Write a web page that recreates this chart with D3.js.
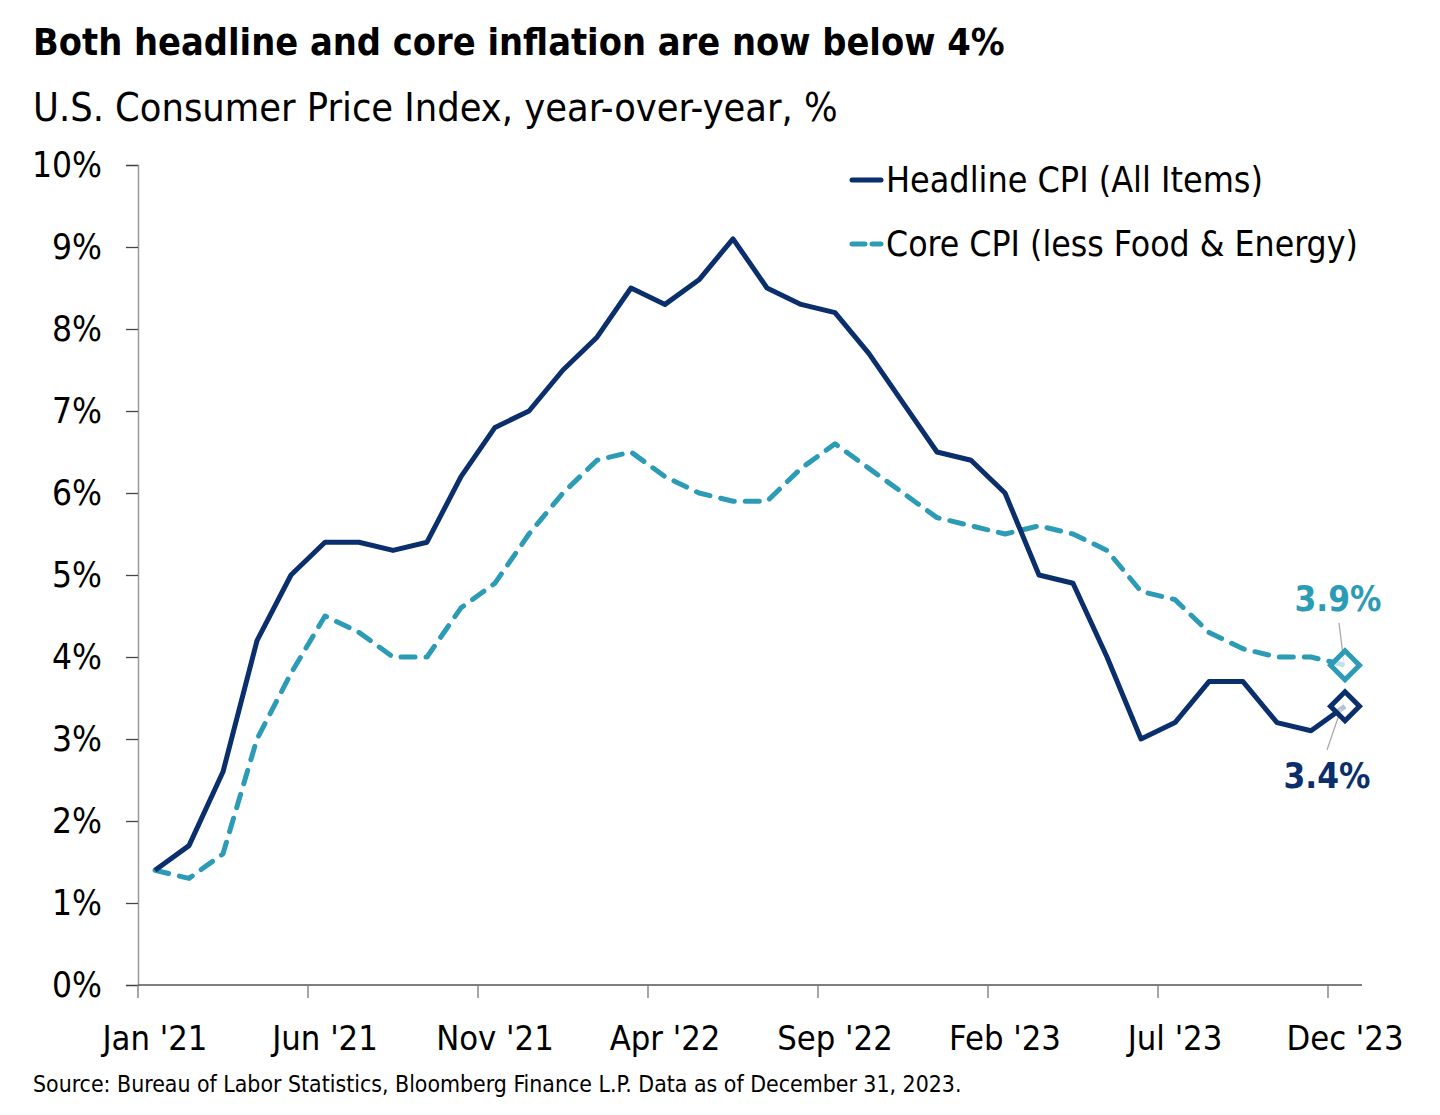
<!DOCTYPE html>
<html>
<head>
<meta charset="utf-8">
<script src="https://cdn.jsdelivr.net/npm/d3@7"></script>
<style>
  body { margin: 0; background: #fff; }
  svg { display: block; }
</style>
</head>
<body>
<div id="chart"></div>
<script>
// ---------- data ----------
const months = [
  "Jan '21", "Feb '21", "Mar '21", "Apr '21", "May '21", "Jun '21",
  "Jul '21", "Aug '21", "Sep '21", "Oct '21", "Nov '21", "Dec '21",
  "Jan '22", "Feb '22", "Mar '22", "Apr '22", "May '22", "Jun '22",
  "Jul '22", "Aug '22", "Sep '22", "Oct '22", "Nov '22", "Dec '22",
  "Jan '23", "Feb '23", "Mar '23", "Apr '23", "May '23", "Jun '23",
  "Jul '23", "Aug '23", "Sep '23", "Oct '23", "Nov '23", "Dec '23"
];
const headline = [
  1.4, 1.7, 2.6, 4.2, 5.0, 5.4, 5.4, 5.3, 5.4, 6.2, 6.8, 7.0,
  7.5, 7.9, 8.5, 8.3, 8.6, 9.1, 8.5, 8.3, 8.2, 7.7, 7.1, 6.5,
  6.4, 6.0, 5.0, 4.9, 4.0, 3.0, 3.2, 3.7, 3.7, 3.2, 3.1, 3.4
];
const core = [
  1.4, 1.3, 1.6, 3.0, 3.8, 4.5, 4.3, 4.0, 4.0, 4.6, 4.9, 5.5,
  6.0, 6.4, 6.5, 6.2, 6.0, 5.9, 5.9, 6.3, 6.6, 6.3, 6.0, 5.7,
  5.6, 5.5, 5.6, 5.5, 5.3, 4.8, 4.7, 4.3, 4.1, 4.0, 4.0, 3.9
];
const xLabels = ["Jan '21", "Jun '21", "Nov '21", "Apr '22", "Sep '22", "Feb '23", "Jul '23", "Dec '23"];
const yTicks = [0, 1, 2, 3, 4, 5, 6, 7, 8, 9, 10];
const seriesNames = ["Headline CPI (All Items)", "Core CPI (less Food & Energy)"];

// ---------- setup ----------
const width = 1440, height = 1115;
const navy = "#0a2f6c", teal = "#2c9bb6";
const font = "'Liberation Sans Narrow', 'DejaVu Sans Condensed', 'Roboto Condensed', 'Open Sans', sans-serif";

const svg = d3.select("#chart").append("svg")
  .attr("width", width)
  .attr("height", height)
  .style("font-family", font);

const x = d3.scaleBand().domain(months).range([138, 1362]).paddingInner(0).paddingOuter(0);
const y = d3.scaleLinear().domain([0, 10]).range([985, 165]);
const cx = m => x(m) + x.bandwidth() / 2;

// font size that makes a text span the given width
function fitSize(sel, w) {
  const fs = parseFloat(sel.style("font-size"));
  const len = sel.node().getComputedTextLength();
  return len > 0 ? fs * w / len : fs;
}
function fit(sel, w) {
  sel.style("font-size", fitSize(sel, w) + "px");
  return sel;
}

// ---------- titles ----------
fit(svg.append("text")
  .attr("x", 33).attr("y", 55)
  .style("font-size", "38px").style("font-weight", 700).style("fill", "#000")
  .text("Both headline and core inflation are now below 4%"), 972);

fit(svg.append("text")
  .attr("x", 33).attr("y", 121)
  .style("font-size", "36px").style("fill", "#000")
  .text("U.S. Consumer Price Index, year-over-year, %"), 805);

// ---------- axes ----------
const yAxis = svg.append("g")
  .attr("transform", "translate(138,0)")
  .call(d3.axisLeft(y).tickValues(yTicks).tickSize(12).tickPadding(24).tickFormat(d => d + "%"));
yAxis.select(".domain").attr("stroke", "#9a9a9a").attr("stroke-width", 1.5);
yAxis.selectAll(".tick line").attr("stroke", "#444").attr("stroke-width", 1.3);
const yText = yAxis.selectAll(".tick text")
  .style("font-family", font).style("font-size", "34px").attr("fill", "#000");
yText.style("font-size", fitSize(yText.filter(d => d === 10), 70) + "px");

svg.append("line")
  .attr("x1", x.range()[0]).attr("x2", x.range()[1])
  .attr("y1", y(0)).attr("y2", y(0))
  .attr("stroke", "#555").attr("stroke-width", 1.5);

const xTicks = svg.append("g");
xLabels.forEach(m => {
  xTicks.append("line")
    .attr("x1", x(m)).attr("x2", x(m))
    .attr("y1", y(0)).attr("y2", y(0) + 13)
    .attr("stroke", "#777").attr("stroke-width", 1.3);
  xTicks.append("text")
    .attr("x", cx(m)).attr("y", 1050)
    .attr("text-anchor", "middle")
    .style("font-size", "36px").style("fill", "#000")
    .text(m);
});
const xText = xTicks.selectAll("text");
xText.style("font-size", fitSize(d3.select(xText.nodes()[0]), 105) + "px");

// ---------- lines ----------
const line = d3.line().x((d, i) => cx(months[i])).y(d => y(d));

svg.append("path")
  .datum(core)
  .attr("d", line)
  .attr("fill", "none")
  .attr("stroke", teal)
  .attr("stroke-width", 5)
  .attr("stroke-dasharray", "14 11")
  .attr("stroke-linecap", "round")
  .attr("stroke-linejoin", "round");

svg.append("path")
  .datum(headline)
  .attr("d", line)
  .attr("fill", "none")
  .attr("stroke", navy)
  .attr("stroke-width", 5)
  .attr("stroke-linejoin", "round");

// ---------- end markers + labels ----------
const last = months.length - 1;
const ends = [
  { v: core[last], color: teal, lx: 1338, ly: 611, l1: [1339, 623], l2: [1344, 663] },
  { v: headline[last], color: navy, lx: 1327, ly: 788, l1: [1327, 750], l2: [1341, 709] }
];
ends.forEach(e => {
  svg.append("line")
    .attr("x1", e.l1[0]).attr("y1", e.l1[1])
    .attr("x2", e.l2[0]).attr("y2", e.l2[1])
    .attr("stroke", "#a6a6a6").attr("stroke-width", 1.2);
  svg.append("path")
    .attr("d", d3.symbol(d3.symbolSquare, 420)())
    .attr("transform", `translate(${cx(months[last])},${y(e.v)}) rotate(45)`)
    .attr("fill", "#fff")
    .attr("fill-opacity", 0.7)
    .attr("stroke", e.color)
    .attr("stroke-width", 5);
  fit(svg.append("text")
    .attr("x", e.lx).attr("y", e.ly)
    .attr("text-anchor", "middle")
    .style("font-size", "36px").style("font-weight", 700).style("fill", e.color)
    .text(e.v.toFixed(1) + "%"), 87);
});

// ---------- legend ----------
const legend = svg.append("g");
[{ name: seriesNames[0], color: navy, dash: null, y: 180 },
 { name: seriesNames[1], color: teal, dash: "13 7", y: 244 }].forEach((s, i) => {
  legend.append("line")
    .attr("x1", 852).attr("x2", 881)
    .attr("y1", s.y).attr("y2", s.y)
    .attr("stroke", s.color).attr("stroke-width", 5)
    .attr("stroke-linecap", "round")
    .attr("stroke-dasharray", s.dash);
  fit(legend.append("text")
    .attr("x", 886).attr("y", s.y + 12)
    .style("font-size", "35px").style("fill", "#000")
    .text(s.name), i === 0 ? 377 : 472);
});

// ---------- source ----------
fit(svg.append("text")
  .attr("x", 33).attr("y", 1092)
  .style("font-size", "22px").style("fill", "#000")
  .text("Source: Bureau of Labor Statistics, Bloomberg Finance L.P. Data as of December 31, 2023."), 929);
</script>
</body>
</html>
